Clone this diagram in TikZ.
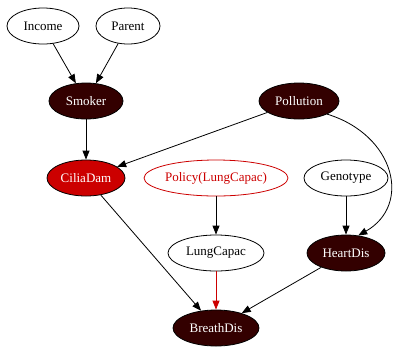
\documentclass[tikz,border=0pt]{standalone}
\usepackage{fontspec}
\setmainfont{Liberation Serif}
\usetikzlibrary{arrows.meta,shapes.geometric}
\definecolor{darkred}{RGB}{51,0,0}
\definecolor{ciliared}{RGB}{204,0,0}
\begin{document}
\begin{tikzpicture}[x=1pt,y=-1pt,
  every node/.style={font=\fontsize{13}{15}\selectfont},
  var/.style={ellipse,draw=black,line width=0.8pt,inner sep=0pt,minimum height=36pt},
  hidden/.style={var,fill=darkred,text=white},
  observed/.style={var,fill=ciliared,text=white},
  decision/.style={var,draw=ciliared,text=ciliared},
  link/.style={draw=black,line width=0.8pt,-{Triangle[length=9pt,width=7pt]}},
  policylink/.style={link,draw=ciliared,-{Triangle[length=9pt,width=7pt,fill=ciliared]}}]
\useasboundingbox (0,0) rectangle (403,346);
\node[var,minimum width=72pt] (income) at (43,26) {Income};
\node[var,minimum width=64pt] (parent) at (128,26) {Parent};
\node[hidden,minimum width=74pt] (smoker) at (86,101) {Smoker};
\node[hidden,minimum width=80pt] (pollution) at (299,101) {Pollution};
\node[observed,minimum width=78pt] (cilia) at (86,178) {CiliaDam};
\node[decision,minimum width=142pt] (policy) at (216,178) {Policy(LungCapac)};
\node[var,minimum width=84pt] (genotype) at (346,178) {Genotype};
\node[var,minimum width=96pt] (lung) at (216,253) {LungCapac};
\node[hidden,minimum width=78pt] (heart) at (346,253) {HeartDis};
\node[hidden,minimum width=86pt] (breath) at (216,328) {BreathDis};
\draw[link] (income) -- (smoker);
\draw[link] (parent) -- (smoker);
\draw[link] (smoker) -- (cilia);
\draw[link] (pollution) -- (cilia);
\draw[link] (pollution.-25) .. controls (395,135) and (412,205) .. (heart.55);
\draw[link] (policy) -- (lung);
\draw[link] (genotype) -- (heart);
\draw[link] (cilia) -- (breath);
\draw[policylink] (lung) -- (breath);
\draw[link] (heart) -- (breath);
\end{tikzpicture}
\end{document}
